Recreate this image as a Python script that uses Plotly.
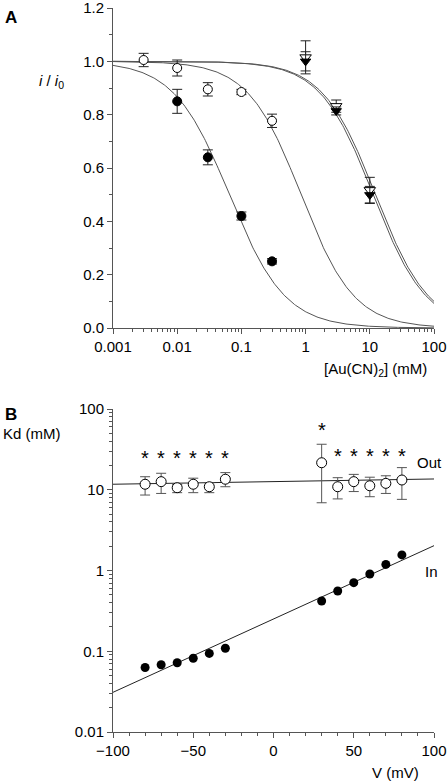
import numpy as np
import plotly.graph_objects as go

# ---------------- Panel A data ----------------
conc_filled_circ = [0.01, 0.03, 0.1, 0.3]
val_filled_circ = [0.85, 0.64, 0.42, 0.25]
err_filled_circ = [0.045, 0.028, 0.015, 0.01]

conc_open_circ = [0.003, 0.01, 0.03, 0.1, 0.3]
val_open_circ = [1.005, 0.975, 0.895, 0.885, 0.777]
err_open_circ = [0.025, 0.03, 0.025, 0.01, 0.025]

conc_tri = [1, 3, 10]
val_open_tri = [1.015, 0.832, 0.517]
err_open_tri = [0.062, 0.023, 0.048]
val_filled_tri = [1.0, 0.814, 0.499]
err_filled_tri = [0.036, 0.015, 0.032]

# Hill fits (Kd in mM, Hill coefficient)
fit_kd = [0.065, 0.85, 11.3, 12.3]
fit_n = [1.0, 1.05, 1.05, 1.05]

yA_ticks = [0.0, 0.2, 0.4, 0.6, 0.8, 1.0, 1.2]
yA_minor = [0.1, 0.3, 0.5, 0.7, 0.9, 1.1]

# ---------------- Panel B data ----------------
volt = [-80, -70, -60, -50, -40, -30, 30, 40, 50, 60, 70, 80]
kd_out = [11.7, 12.6, 10.6, 11.7, 10.9, 13.5, 21.6, 10.9, 12.6, 11.2, 12.0, 13.2]
kd_out_hi = [14.5, 16.0, 11.6, 13.9, 12.2, 16.3, 36.6, 14.1, 15.5, 14.3, 14.9, 18.8]
kd_out_lo = [8.6, 9.0, 9.2, 9.2, 9.2, 10.9, 6.9, 7.7, 9.5, 8.2, 9.0, 7.6]
kd_in = [0.063, 0.068, 0.072, 0.082, 0.094, 0.109, 0.419, 0.557, 0.707, 0.906, 1.19, 1.56]

fit_v = [-100, 100]
fit_out = [11.7, 13.6]
fit_in = [0.031, 2.03]

star_v = [-80, -70, -60, -50, -40, -30, 30, 40, 50, 60, 70, 80]
star_kd = [25, 25, 25, 25, 25, 25, 55, 26, 26, 26, 26, 26]

FONT = "Liberation Sans, Arial, sans-serif"
AX = "#555555"

fig = go.Figure()

# fitted curves panel A
xs = np.logspace(-3, 2, 300)
for k, n in zip(fit_kd, fit_n):
    fig.add_trace(go.Scatter(x=xs, y=1.0 / (1.0 + (xs / k) ** n), mode="lines",
                             line=dict(color="#555555", width=1), xaxis="x", yaxis="y",
                             hoverinfo="skip", showlegend=False))

def eb(arr):
    return dict(type="data", array=arr, visible=True, color="#222222", thickness=1, width=5)

fig.add_trace(go.Scatter(x=conc_tri, y=val_open_tri, mode="markers",
                         error_y=eb(err_open_tri),
                         marker=dict(symbol="triangle-down", size=10, color="white",
                                     line=dict(color="black", width=1)),
                         xaxis="x", yaxis="y", showlegend=False))
fig.add_trace(go.Scatter(x=conc_tri, y=val_filled_tri, mode="markers",
                         error_y=eb(err_filled_tri),
                         marker=dict(symbol="triangle-down", size=9, color="black",
                                     line=dict(color="black", width=1)),
                         xaxis="x", yaxis="y", showlegend=False))
fig.add_trace(go.Scatter(x=conc_open_circ, y=val_open_circ, mode="markers",
                         error_y=eb(err_open_circ),
                         marker=dict(symbol="circle", size=9, color="white",
                                     line=dict(color="black", width=1)),
                         xaxis="x", yaxis="y", showlegend=False))
fig.add_trace(go.Scatter(x=conc_filled_circ, y=val_filled_circ, mode="markers",
                         error_y=eb(err_filled_circ),
                         marker=dict(symbol="circle", size=9, color="black",
                                     line=dict(color="black", width=1)),
                         xaxis="x", yaxis="y", showlegend=False))

# Panel B
fig.add_trace(go.Scatter(x=fit_v, y=fit_out, mode="lines", line=dict(color="#222222", width=1),
                         xaxis="x2", yaxis="y2", showlegend=False, hoverinfo="skip"))
fig.add_trace(go.Scatter(x=fit_v, y=fit_in, mode="lines", line=dict(color="#222222", width=1),
                         xaxis="x2", yaxis="y2", showlegend=False, hoverinfo="skip"))
fig.add_trace(go.Scatter(x=volt, y=kd_out, mode="markers",
                         error_y=dict(type="data", symmetric=False,
                                      array=[h - v for h, v in zip(kd_out_hi, kd_out)],
                                      arrayminus=[v - l for l, v in zip(kd_out_lo, kd_out)],
                                      color="#555555", thickness=1, width=5),
                         marker=dict(symbol="circle", size=10, color="white",
                                     line=dict(color="black", width=1)),
                         xaxis="x2", yaxis="y2", showlegend=False))
fig.add_trace(go.Scatter(x=volt, y=kd_in, mode="markers",
                         marker=dict(symbol="circle", size=9, color="black"),
                         xaxis="x2", yaxis="y2", showlegend=False))

annotations = []
for v, k in zip(star_v, star_kd):
    annotations.append(dict(x=v, y=np.log10(k), xref="x2", yref="y2", text="*", showarrow=False,
                            font=dict(family=FONT, size=20, color="black"), yanchor="middle"))

W, H = 448, 783
ML, MR, MT, MB = 113, 14, 8, 51
PW, PH = W - ML - MR, H - MT - MB

def px_x(p):
    return (p - ML) / PW

def px_y(p):
    return (H - MB - p) / PH

labels = [
    ("<b>A</b>", 3, 6, "left", "top", 17),
    ("<b>B</b>", 3, 403, "left", "top", 17),
    ("<i>i</i> / <i>i</i><sub>0</sub>", 37, 81, "left", "middle", 15),
    ("[Au(CN)<sub>2</sub>] (mM)", 429, 369, "right", "middle", 15),
    ("Kd (mM)", 1, 433, "left", "middle", 15),
    ("V (mV)", 421, 772, "right", "middle", 15),
    ("Out", 415, 462, "left", "middle", 15),
    ("In", 423, 571, "left", "middle", 15),
]
for txt, x, y, xa, ya, fs in labels:
    annotations.append(dict(text=txt, x=px_x(x), y=px_y(y), xref="paper", yref="paper",
                            xanchor=xa, yanchor=ya, showarrow=False,
                            font=dict(family=FONT, size=fs, color="black")))

top_A = 1.0
bot_A = (H - MB - 328) / PH
top_B = (H - MB - 409) / PH

axis_common = dict(showline=True, linecolor=AX, linewidth=1, ticks="outside", ticklen=5,
                   tickcolor=AX, showgrid=False, zeroline=False, mirror=False, automargin=False,
                   ticklabeloverflow="allow",
                   tickfont=dict(family=FONT, size=15, color="black"))

minor_log_A = [m * 10.0 ** e for e in range(-3, 2) for m in range(2, 10)]
minor_log_B = [m * 10.0 ** e for e in range(-2, 2) for m in range(2, 10)]

fig.update_layout(
    width=W, height=H,
    margin=dict(l=ML, r=MR, t=MT, b=MB, autoexpand=False),
    paper_bgcolor="white", plot_bgcolor="white",
    font=dict(family=FONT, size=15, color="black"),
    xaxis=dict(type="log", range=[-3, 2], domain=[0, 1], anchor="y",
               tickvals=[0.001, 0.01, 0.1, 1, 10, 100],
               ticktext=["0.001", "0.01", "0.1", "1", "10", "100"],
               minor=dict(tickvals=minor_log_A, ticks="outside", ticklen=3, tickcolor=AX),
               **axis_common),
    yaxis=dict(range=[0, 1.2], domain=[bot_A, top_A], anchor="x",
               tickvals=yA_ticks, ticktext=[f"{t:.1f}" for t in yA_ticks],
               minor=dict(tickvals=yA_minor, ticks="outside", ticklen=3, tickcolor=AX),
               **axis_common),
    xaxis2=dict(range=[-100, 100], domain=[0, 1], anchor="y2", dtick=50,
                minor=dict(dtick=10, ticks="outside", ticklen=3, tickcolor=AX),
                **axis_common),
    yaxis2=dict(type="log", range=[-2, 2], domain=[0, top_B], anchor="x2",
                tickvals=[0.01, 0.1, 1, 10, 100],
                ticktext=["0.01", "0.1", "1", "10", "100"],
                minor=dict(tickvals=minor_log_B, ticks="outside", ticklen=3, tickcolor=AX),
                **axis_common),
    annotations=annotations,
)

fig.write_html("out.html", config={"displayModeBar": False},
               post_script="document.body.style.margin='0';")
